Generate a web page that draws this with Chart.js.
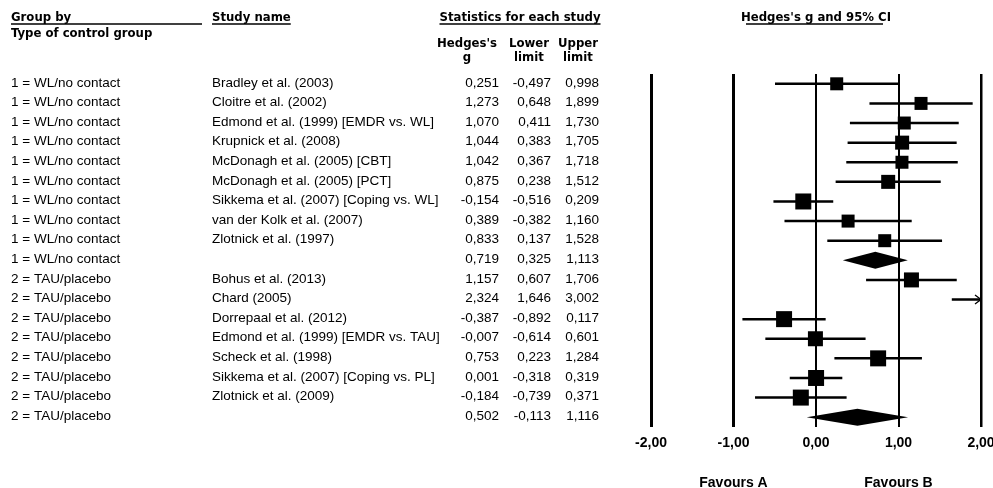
<!DOCTYPE html>
<html>
<head>
<meta charset="utf-8">
<script src="https://cdn.jsdelivr.net/npm/chart.js@4.4.0/dist/chart.umd.min.js"></script>
<style>
  html, body { margin: 0; padding: 0; background: #fff; overflow: hidden; }
  canvas { display: block; }
</style>
</head>
<body>
<canvas id="forest" width="993" height="488"></canvas>
<script>
// rows of the forest plot, top to bottom
const groups = [
  "1 = WL/no contact", "1 = WL/no contact", "1 = WL/no contact", "1 = WL/no contact",
  "1 = WL/no contact", "1 = WL/no contact", "1 = WL/no contact", "1 = WL/no contact",
  "1 = WL/no contact", "1 = WL/no contact",
  "2 = TAU/placebo", "2 = TAU/placebo", "2 = TAU/placebo", "2 = TAU/placebo",
  "2 = TAU/placebo", "2 = TAU/placebo", "2 = TAU/placebo", "2 = TAU/placebo"
];
const studies = [
  "Bradley et al. (2003)", "Cloitre et al. (2002)", "Edmond et al. (1999) [EMDR vs. WL]",
  "Krupnick et al. (2008)", "McDonagh et al. (2005) [CBT]", "McDonagh et al. (2005) [PCT]",
  "Sikkema et al. (2007) [Coping vs. WL]", "van der Kolk et al. (2007)", "Zlotnick et al. (1997)",
  "",
  "Bohus et al. (2013)", "Chard (2005)", "Dorrepaal et al. (2012)",
  "Edmond et al. (1999) [EMDR vs. TAU]", "Scheck et al. (1998)",
  "Sikkema et al. (2007) [Coping vs. PL]", "Zlotnick et al. (2009)",
  ""
];
const hedgesG = [0.251, 1.273, 1.070, 1.044, 1.042, 0.875, -0.154, 0.389, 0.833, 0.719,
                 1.157, 2.324, -0.387, -0.007, 0.753, 0.001, -0.184, 0.502];
const lowerLimit = [-0.497, 0.648, 0.411, 0.383, 0.367, 0.238, -0.516, -0.382, 0.137, 0.325,
                    0.607, 1.646, -0.892, -0.614, 0.223, -0.318, -0.739, -0.113];
const upperLimit = [0.998, 1.899, 1.730, 1.705, 1.718, 1.512, 0.209, 1.160, 1.528, 1.113,
                    1.706, 3.002, 0.117, 0.601, 1.284, 0.319, 0.371, 1.116];
const isSummary = [false, false, false, false, false, false, false, false, false, true,
                   false, false, false, false, false, false, false, true];
const tickValues = [-2, -1, 0, 1, 2];
const axisLabels = ["Favours A", "Favours B"];

// styling (pixels)
const boxSide = [13, 13, 13, 14, 13, 14, 16, 13, 13, 0, 15, 15, 16, 15, 16, 16, 16, 0];
const gridWidths = [3, 3, 2, 2, 2.5];

const fmt = (v, d) => v.toFixed(d).replace(".", ",");
const rowNo = i => i + 1;

// CI whiskers as one broken line
const ciPoints = [];
const boxPoints = [];
const boxRadius = [];
groups.forEach((g, i) => {
  if (isSummary[i]) return;
  ciPoints.push({ x: lowerLimit[i], y: rowNo(i) });
  ciPoints.push({ x: upperLimit[i], y: rowNo(i) });
  ciPoints.push({ x: NaN, y: NaN });
  boxPoints.push({ x: hedgesG[i], y: rowNo(i) });
  boxRadius.push(boxSide[i] / Math.SQRT2);
});

const HEAD = "bold 13px 'DejaVu Sans Condensed', 'DejaVu Sans', sans-serif";
const BODY = "13.5px 'Liberation Sans', Arial, sans-serif";
const AXIS = "bold 14px 'Liberation Sans', Arial, sans-serif";

function underline(ctx, x1, x2, y) {
  ctx.beginPath();
  ctx.moveTo(x1, y);
  ctx.lineTo(x2, y);
  ctx.lineWidth = 1.5;
  ctx.strokeStyle = "#000";
  ctx.stroke();
}

const forestExtras = {
  id: "forestExtras",
  afterDatasetsDraw(chart) {
    const { ctx, scales: { x, y }, chartArea } = chart;
    ctx.save();
    ctx.fillStyle = "#000";
    ctx.strokeStyle = "#000";
    groups.forEach((g, i) => {
      const py = y.getPixelForValue(rowNo(i));
      if (isSummary[i]) {
        const h = 8.5;
        ctx.beginPath();
        ctx.moveTo(x.getPixelForValue(lowerLimit[i]), py);
        ctx.lineTo(x.getPixelForValue(hedgesG[i]), py - h);
        ctx.lineTo(x.getPixelForValue(upperLimit[i]), py);
        ctx.lineTo(x.getPixelForValue(hedgesG[i]), py + h);
        ctx.closePath();
        ctx.fill();
      } else if (upperLimit[i] > x.max) {
        // arrow for a CI running off the scale
        const ax = chartArea.right;
        ctx.beginPath();
        ctx.moveTo(ax - 6, py - 4.5);
        ctx.lineTo(ax, py);
        ctx.lineTo(ax - 6, py + 4.5);
        ctx.lineWidth = 1.3;
        ctx.stroke();
      }
    });
    ctx.restore();
  },
  afterDraw(chart) {
    const { ctx, scales: { x, y } } = chart;
    ctx.save();
    ctx.fillStyle = "#000";

    // headers
    ctx.font = HEAD;
    ctx.textBaseline = "alphabetic";
    ctx.textAlign = "left";
    ctx.fillText("Group by", 11, 21);
    underline(ctx, 11, 202, 24);
    ctx.fillText("Type of control group", 11, 37);
    ctx.fillText("Study name", 212, 21);
    underline(ctx, 212, 212 + ctx.measureText("Study name").width, 24);
    ctx.textAlign = "center";
    ctx.fillText("Statistics for each study", 520, 21);
    const sw = ctx.measureText("Statistics for each study").width;
    underline(ctx, 520 - sw / 2, 520 + sw / 2, 24);
    ctx.fillText("Hedges's", 467, 47);
    ctx.fillText("g", 467, 61);
    ctx.fillText("Lower", 529, 47);
    ctx.fillText("limit", 529, 61);
    ctx.fillText("Upper", 578, 47);
    ctx.fillText("limit", 578, 61);
    const plotMid = (x.left + x.right) / 2;
    ctx.fillText("Hedges's g and 95% CI", plotMid, 21);
    const hw = ctx.measureText("Hedges's g and 95% CI").width;
    underline(ctx, plotMid - hw / 2 + 5, plotMid + hw / 2 - 8, 24);

    // rows
    ctx.font = BODY;
    ctx.textBaseline = "middle";
    groups.forEach((g, i) => {
      const py = y.getPixelForValue(rowNo(i)) - 1;
      ctx.textAlign = "left";
      ctx.fillText(g, 11, py);
      ctx.fillText(studies[i], 212, py);
      ctx.textAlign = "right";
      ctx.fillText(fmt(hedgesG[i], 3), 499, py);
      ctx.fillText(fmt(lowerLimit[i], 3), 551, py);
      ctx.fillText(fmt(upperLimit[i], 3), 599, py);
    });

    // favours labels under -1 and 1
    ctx.font = AXIS;
    ctx.textAlign = "center";
    ctx.textBaseline = "alphabetic";
    ctx.fillText(axisLabels[0], x.getPixelForValue(-1), 487);
    ctx.fillText(axisLabels[1], x.getPixelForValue(1), 487);
    ctx.restore();
  }
};

new Chart(document.getElementById("forest"), {
  data: {
    datasets: [
      {
        type: "line",
        data: ciPoints,
        borderColor: "#000",
        borderWidth: 2.5,
        pointRadius: 0,
        spanGaps: false,
        fill: false
      },
      {
        type: "scatter",
        data: boxPoints,
        pointStyle: "rect",
        pointRadius: boxRadius,
        backgroundColor: "#000",
        borderWidth: 0
      }
    ]
  },
  options: {
    responsive: false,
    animation: false,
    devicePixelRatio: 1,
    events: [],
    layout: { padding: { left: 651, right: 12, top: 74, bottom: 37 } },
    plugins: { legend: { display: false }, tooltip: { enabled: false } },
    scales: {
      x: {
        type: "linear",
        min: -2,
        max: 2,
        afterBuildTicks: s => { s.ticks = tickValues.map(v => ({ value: v })); },
        afterFit: s => { s.paddingLeft = 0; s.paddingRight = 0; s.height = 24; },
        border: { display: false },
        grid: {
          color: "#000",
          drawTicks: false,
          lineWidth: c => gridWidths[c.index]
        },
        ticks: {
          padding: 8,
          color: "#000",
          font: { family: "'Liberation Sans', Arial", size: 14, weight: "bold" },
          callback: v => fmt(v, 2)
        }
      },
      y: {
        type: "linear",
        display: false,
        reverse: true,
        min: 0.5,
        max: 18.5
      }
    }
  },
  plugins: [forestExtras]
});
</script>
</body>
</html>
